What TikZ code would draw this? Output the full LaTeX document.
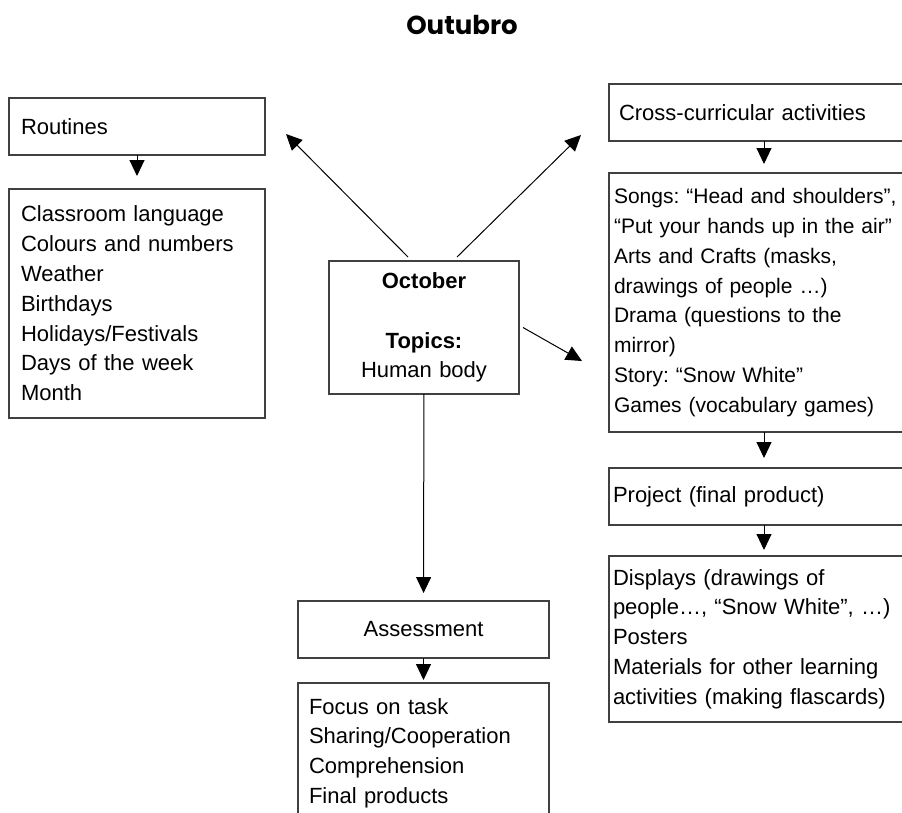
\documentclass[tikz,border=0pt]{standalone}
\usepackage{fontspec}
\setmainfont{Liberation Sans}
\newfontfamily\titlefont{Poppins}
\usetikzlibrary{arrows.meta}
\frenchspacing
\tikzset{
    every node/.style={font=\fontsize{22}{29.8}\selectfont, inner ysep=0pt,
    	outer sep=0pt}
}
\tikzset{
    box/.style={rectangle, draw=black!75, line width=1.3pt, align=left,
    	anchor=north west}
}
\tikzset{
    every edge/.append style={line width=1pt, -{Triangle[length=16pt,width=15pt]}}
}

\begin{document}
\begin{tikzpicture}[x=1pt,y=-1pt]
	\useasboundingbox (0,0) rectangle (902,812);
	\clip (0,0) rectangle (902,812);
	\node (title) at (462,25) [font=\titlefont\bfseries\fontsize{26}{30}\selectfont] {Outubro};
	
	\node (rout) [box, minimum height=57pt, text width=232pt, inner xsep=12pt] at (9,98) {Routines};
	\node (rlist) [box, minimum height=229pt, text width=232pt, inner xsep=12pt] at (9,189)
		{Classroom language\\Colours and numbers\\Weather\\Birthdays\\Holidays/Festivals\\Days of the week\\Month};
	\node (oct) [box, align=center, minimum height=133pt, text width=180pt, inner xsep=5pt] at (329,261)
		{\textbf{October}\\[30pt]\textbf{Topics:}\\Human body};
	\node (cross) [box, minimum height=57pt, text width=290pt, inner xsep=10pt] at (609,84) {Cross-curricular activities};
	\node (songs) [box, minimum height=259pt, text width=300pt, inner xsep=5pt,
		font=\fontsize{21}{29.8}\selectfont] at (609,173)
		{\mbox{Songs: “Head and shoulders”,}\\\mbox{“Put your hands up in the air”}\\Arts and Crafts (masks,\\drawings of people …)\\Drama (questions to the\\mirror)\\Story: “Snow White”\\Games (vocabulary games)};
	\node (proj) [box, minimum height=57pt, text width=302pt, inner xsep=4pt] at (609,468) {Project (final product)};
	\node (disp) [box, minimum height=166pt, text width=302pt, inner xsep=4pt] at (609,556)
		{Displays (drawings of\\people…, “Snow White”, …)\\Posters\\Materials for other learning\\activities (making flascards)};
	\node (assess) [box, align=center, minimum height=57pt, text width=231pt, inner xsep=10pt] at (298,601) {Assessment};
	\node (final) [box, minimum height=140pt, text width=229pt, inner xsep=11pt] at (298,683)
		{Focus on task\\Sharing/Cooperation\\Comprehension\\Final products};
	
	\draw (rout) edge [shorten >=13pt] (rlist); \draw (cross) edge [shorten >=9pt] (songs);
	\draw (songs) edge [shorten >=10pt] (proj); \draw (proj) edge [shorten >=6pt] (disp);
	\draw (oct) edge [shorten >=8pt] (assess); \draw (assess) edge [shorten >=3pt] (final);
	\draw ([xshift=-16pt,yshift=4pt]oct.north) edge ([xshift=21pt,yshift=-7.5pt]rout.east);
	\draw ([xshift=33pt,yshift=4pt]oct.north) edge ([xshift=-28pt,yshift=-22.5pt]cross.west);
	\draw ([xshift=4pt]oct.east) edge ([xshift=-27pt,yshift=-58.5pt]songs.west);
\end{tikzpicture}
\end{document}
